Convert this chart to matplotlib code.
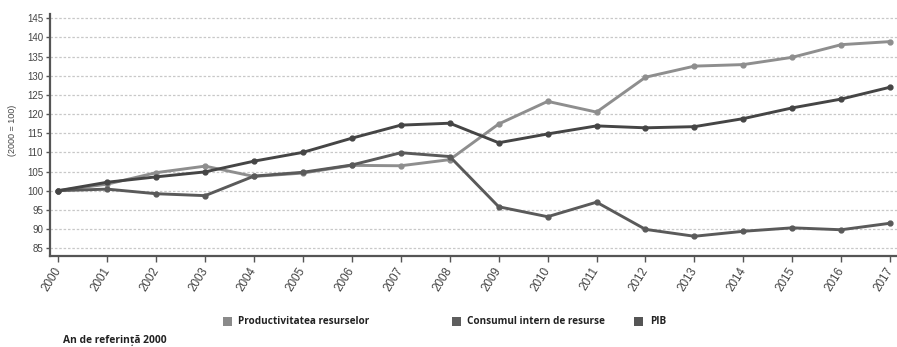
import matplotlib
matplotlib.use("Agg")
import matplotlib.pyplot as plt
from matplotlib.patches import Rectangle

years = list(range(2000, 2018))
productivitate = [100, 101.7, 104.7, 106.4, 103.7, 104.6, 106.6, 106.5, 108.1, 117.4,
                  123.3, 120.5, 129.6, 132.5, 132.9, 134.8, 138.1, 138.9]
consum = [100, 100.4, 99.2, 98.7, 103.8, 104.8, 106.7, 109.9, 108.9, 95.8,
          93.2, 97.0, 89.9, 88.1, 89.4, 90.3, 89.8, 91.5]
pib = [100, 102.2, 103.6, 104.9, 107.7, 110.0, 113.7, 117.1, 117.6, 112.5,
       114.8, 116.9, 116.4, 116.7, 118.8, 121.6, 123.9, 127.0]

series_names = ["Productivitatea resurselor", "Consumul intern de resurse", "PIB"]
series_values = [productivitate, consum, pib]
line_colors = ["#8e8e8e", "#5a5a5a", "#454545"]
legend_colors = ["#8a8a8a", "#5e5e5e", "#555555"]

y_ticks = list(range(85, 150, 5))
y_label = "(2000 = 100)"
footnote = "An de referință 2000"

fig = plt.figure(figsize=(8.97, 3.47), dpi=100)
ax = fig.add_axes([50 / 897, 1 - 256 / 347, 1 - 50 / 897, (256 - 14) / 347])

for vals, col in zip(series_values, line_colors):
    ax.plot(years, vals, color=col, lw=2.1, marker="o", ms=3.5,
            mec=col, mfc=col, zorder=3)

ax.set_xlim(1999.83, 2017.14)
ax.set_ylim(82.95, 146.1)
ax.set_yticks(y_ticks)
ax.set_xticks(years)
ax.set_xticklabels([str(y) for y in years], rotation=58, ha="right", va="center",
                   rotation_mode="anchor", fontsize=8.4, color="#444444",
                   family="Liberation Sans")
ax.set_yticklabels([str(v) for v in y_ticks], fontsize=7, color="#444444",
                   family="Liberation Sans")
ax.tick_params(axis="y", length=3, width=1, color="#555555", pad=2)
ax.tick_params(axis="x", length=4, width=1, color="#555555", pad=5)

ax.grid(axis="y", color="#c8c8c8", ls=(0, (2, 1.5)), lw=0.9, zorder=0)
for s in ["top", "right"]:
    ax.spines[s].set_visible(False)
for s in ["left", "bottom"]:
    ax.spines[s].set_color("#555555")
    ax.spines[s].set_linewidth(1.6)

ax.set_ylabel(y_label, fontsize=6.5, color="#444444", family="Liberation Sans")
ax.yaxis.set_label_coords(-0.039, 0.52)

# legend drawn in figure coordinates
W, H = 897, 347
legend_pos = [(223, 238), (452, 467), (634, 650)]
for (sx, tx), name, col in zip(legend_pos, series_names, legend_colors):
    fig.add_artist(Rectangle((sx / W, 1 - 326 / H), 9 / W, 9 / H,
                             transform=fig.transFigure, color=col, lw=0))
    fig.text(tx / W, 1 - 321 / H, name, fontsize=7.2, fontweight="bold",
             family="Open Sans", color="#222222", va="center", ha="left")

fig.text(63 / W, 1 - 340 / H, footnote, fontsize=7.4, fontweight="bold",
         family="Open Sans", color="#222222", va="center", ha="left")

fig.savefig("out.png", dpi=100)
